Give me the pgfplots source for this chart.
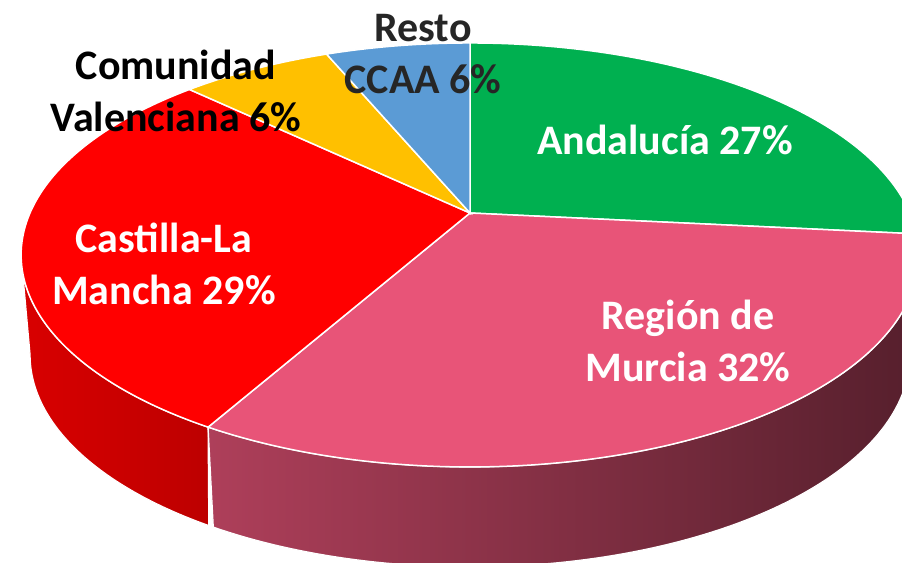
\documentclass[border=0pt]{standalone}
\usepackage{pgfplots}
\pgfplotsset{compat=1.18}
\usepackage{fontspec}
\setmainfont{Carlito}
\definecolor{cAnd}{HTML}{00B050}
\definecolor{cMur}{HTML}{E85478}
\definecolor{cCas}{HTML}{FF0000}
\definecolor{cVal}{HTML}{FFC000}
\definecolor{cRes}{HTML}{5B9BD5}
\definecolor{cResTxt}{HTML}{262626}
% shares (%) (labels show rounded values)
\def\vAnd{26.6}
\def\vMur{31.6}
\def\vCas{28.9}
\def\vVal{6.6}
\def\vRes{6.3}
\begin{document}
\begin{tikzpicture}
\pgfmathsetmacro\aA{90}
\pgfmathsetmacro\aB{\aA-3.6*\vAnd}
\pgfmathsetmacro\aC{\aB-3.6*\vMur}
\pgfmathsetmacro\aD{\aC-3.6*\vCas}
\pgfmathsetmacro\aE{\aD-3.6*\vVal}
\pgfmathsetmacro\aF{\aE-3.6*\vRes}
\begin{axis}[x=0.5pt,y=0.5pt,xmin=0,xmax=902,ymin=0,ymax=563,
  hide axis, clip=true,
  declare function={px(\q)=470+440*cos(\q)/(1+0.198*sin(\q));
                    py(\q)=350+203.7*sin(\q)/(1+0.198*sin(\q));
                    th(\s,\a,\b)=\a+(\b-\a)*(1-abs(\s-1));}]
% sides
\addplot[draw=white, line width=0.6pt, left color=cCas!85!black, right color=cCas!74!black,
  domain=0:2, samples=161, variable=\t]
  ({470+(1-0.02*(\t>1))*(px(th(\t,-168.6,\aC))-470)}, {py(th(\t,-168.6,\aC))-100*(\t>1)}) -- cycle;
\addplot[draw=white, line width=0.6pt, left color=cMur!75!black, middle color=cMur!40!black, right color=cMur!37!black,
  domain=0:2, samples=201, variable=\t]
  ({470+(1-0.02*(\t>1))*(px(th(\t,\aC,-11.4))-470)}, {py(th(\t,\aC,-11.4))-100*(\t>1)}) -- cycle;
% top faces
\addplot[fill=cAnd, draw=white, line width=0.75pt, domain=\aB:\aA, samples=100, variable=\t]
  ({px(\t)},{py(\t)}) -- (axis cs:470,350) -- cycle;
\addplot[fill=cMur, draw=white, line width=0.75pt, domain=\aC:\aB, samples=100, variable=\t]
  ({px(\t)},{py(\t)}) -- (axis cs:470,350) -- cycle;
\addplot[fill=cCas, draw=white, line width=0.75pt, domain=\aD:\aC, samples=100, variable=\t]
  ({px(\t)},{py(\t)}) -- (axis cs:470,350) -- cycle;
\addplot[fill=cVal, draw=white, line width=0.75pt, domain=\aE:\aD, samples=40, variable=\t]
  ({px(\t)},{py(\t)}) -- (axis cs:470,350) -- cycle;
\addplot[fill=cRes, draw=white, line width=0.75pt, domain=\aF:\aE, samples=40, variable=\t]
  ({px(\t)},{py(\t)}) -- (axis cs:470,350) -- cycle;
% labels
\tikzset{lab/.style={align=center, font=\fontsize{21}{26}\selectfont\bfseries, inner sep=0pt}}
\node[lab, text=white] at (axis cs:665,423) {Andalucía 27\%};
\node[lab, text=white] at (axis cs:688,222) {Región de\\Murcia 32\%};
\node[lab, text=white] at (axis cs:164,299) {Castilla-La\\Mancha 29\%};
\node[lab, text=black] at (axis cs:176,472) {Comunidad\\Valenciana 6\%};
\node[lab, text=cResTxt] at (axis cs:423,509) {Resto\\CCAA 6\%};
\end{axis}
\pgfresetboundingbox
\path[use as bounding box] (current axis.south west) rectangle (current axis.north east);
\end{tikzpicture}
\end{document}
